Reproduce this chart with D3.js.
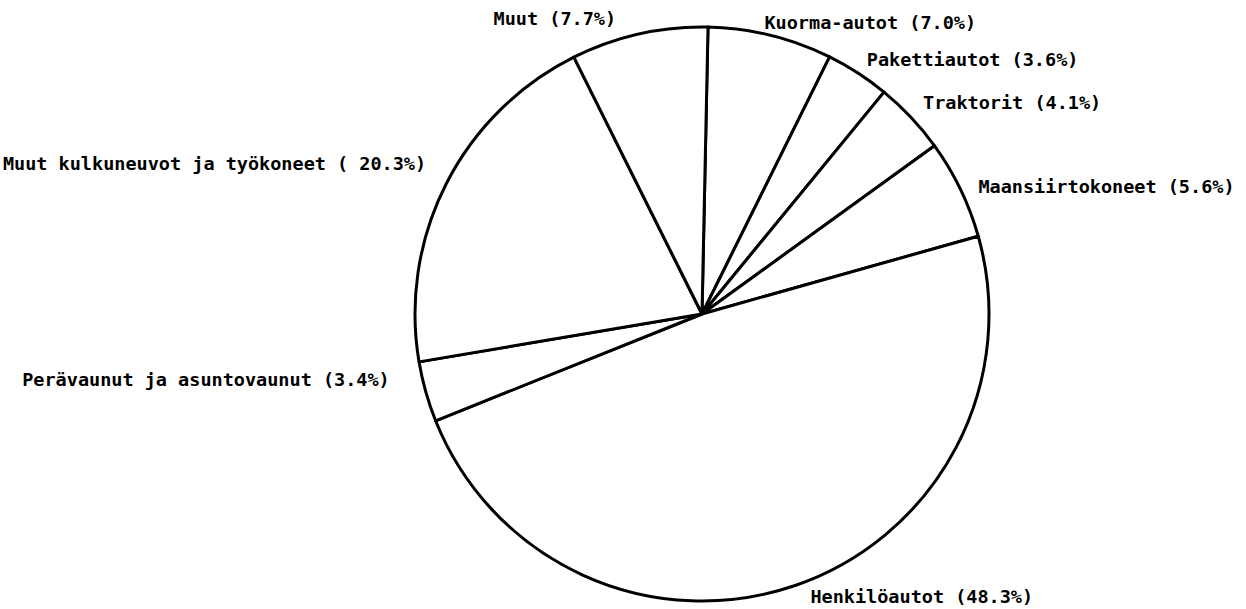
<!DOCTYPE html>
<html>
<head>
<meta charset="utf-8">
<script src="https://cdn.jsdelivr.net/npm/d3@7"></script>
<style>
  html, body { margin: 0; padding: 0; background: #fff; }
  svg { display: block; }
  text { font-family: "DejaVu Sans Mono", "Liberation Mono", monospace; font-size: 18.5px; font-weight: bold; fill: #000; }
</style>
</head>
<body>
<svg id="chart" width="1246" height="609"></svg>
<script>
// Data (clockwise from top)
const categories = ["Kuorma-autot", "Pakettiautot", "Traktorit", "Maansiirtokoneet",
  "Henkilöautot", "Perävaunut ja asuntovaunut", "Muut kulkuneuvot ja työkoneet", "Muut"];
const shares = [7.0, 3.6, 4.1, 5.6, 48.3, 3.4, 20.3, 7.7];
const labelTexts = ["Kuorma-autot (7.0%)", "Pakettiautot (3.6%)", "Traktorit (4.1%)",
  "Maansiirtokoneet (5.6%)", "Henkilöautot (48.3%)", "Perävaunut ja asuntovaunut (3.4%)",
  "Muut kulkuneuvot ja työkoneet ( 20.3%)", "Muut (7.7%)"];

// Layout (label nudges relative to the slice's outer mid-point)
const cx = 702, cy = 314, R = 287;
const labelNudge = [[-6, -6], [9, -7], [12, -8], [18, 4], [16, 17], [-36, -6], [-20, -14], [-23, -9]];

const svg = d3.select("#chart");
const g = svg.append("g").attr("transform", `translate(${cx},${cy})`);

const startOffset = 1.2 * Math.PI / 180;
const pie = d3.pie().sort(null).value(d => d)
  .startAngle(startOffset).endAngle(2 * Math.PI + startOffset);
const arcs = pie(shares);
const arc = d3.arc().innerRadius(0).outerRadius(R);

g.selectAll("path.slice").data(arcs).enter().append("path")
  .attr("class", "slice")
  .attr("d", arc)
  .attr("fill", "#fff")
  .attr("stroke", "#000")
  .attr("stroke-width", 3)
  .attr("stroke-linejoin", "round");

g.selectAll("text.lbl").data(arcs).enter().append("text")
  .attr("class", "lbl")
  .each(function(d, i) {
    const a = (d.startAngle + d.endAngle) / 2;
    const x = R * Math.sin(a) + labelNudge[i][0];
    const y = -R * Math.cos(a) + labelNudge[i][1];
    d3.select(this)
      .attr("x", x).attr("y", y)
      .attr("text-anchor", Math.sin(a) >= 0 ? "start" : "end")
      .text(labelTexts[i]);
  });
</script>
</body>
</html>
